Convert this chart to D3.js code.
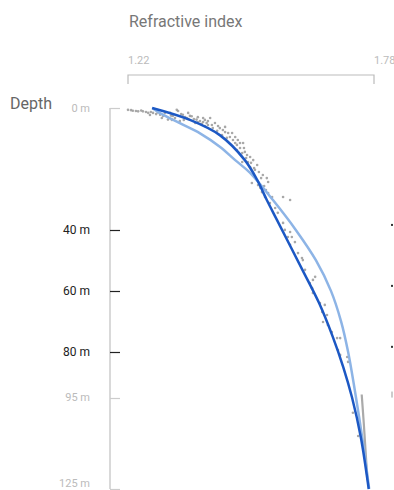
<!DOCTYPE html>
<html>
<head>
<meta charset="utf-8">
<script src="https://cdn.jsdelivr.net/npm/d3@7"></script>
<style>
  html, body { margin: 0; padding: 0; background: #fff; }
  svg { display: block; font-family: Roboto, "Noto Sans", sans-serif; }
</style>
</head>
<body>
<div id="chart"></div>
<script>
// refractive index vs depth
const indexTicks = [1.22, 1.78];
const depthTicks = [0, 40, 60, 80, 95, 125];
const strongTicks = [40, 60, 80];

// measured samples [index, depth m]
const samples = [
  [1.220,0.6],[1.227,0.7],[1.231,0.9],[1.238,1.0],[1.243,1.1],[1.250,0.8],[1.254,1.1],
  [1.261,1.3],[1.266,1.6],[1.272,1.3],[1.277,1.6],[1.284,2.0],[1.288,1.5],[1.293,2.2],
  [1.300,2.6],[1.304,1.6],[1.311,3.8],[1.316,1.6],[1.318,2.5],[1.322,2.6],[1.327,3.3],
  [1.331,0.6],[1.334,1.0],[1.338,4.3],[1.341,2.0],[1.345,2.2],[1.350,3.0],[1.354,3.3],
  [1.357,1.6],[1.361,2.6],[1.365,2.7],[1.370,3.6],[1.376,3.8],[1.379,3.0],[1.384,4.3],
  [1.388,5.2],[1.391,3.3],[1.395,3.9],[1.399,4.9],[1.402,4.3],[1.407,3.3],[1.411,5.6],
  [1.418,4.9],[1.391,4.6],[1.425,5.9],[1.429,6.6],[1.436,7.2],[1.441,6.2],[1.448,8.2],
  [1.457,8.2],[1.445,9.8],[1.459,10.5],[1.468,12.1],[1.475,13.1],[1.482,11.5],[1.486,14.4],
  [1.491,15.4],[1.498,16.1],[1.505,17.1],[1.514,18.7],[1.468,13.8],[1.480,14.8],[1.493,17.7],
  [1.480,17.7],[1.498,19.4],[1.509,20.3],[1.518,21.0],[1.527,22.0],[1.536,23.0],[1.502,24.6],
  [1.516,25.3],[1.525,27.6],[1.539,27.9],[1.548,29.2],[1.532,29.2],[1.573,29.2],[1.589,30.2],
  [1.539,24.3],[1.543,31.2],[1.555,32.8],[1.561,34.4],[1.573,37.7],[1.577,40.0],[1.589,40.7],
  [1.584,42.3],[1.593,42.3],[1.600,44.0],[1.589,44.9],[1.607,47.6],[1.616,49.2],[1.618,49.9],
  [1.623,53.1],[1.646,55.4],[1.641,56.4],[1.634,57.4],[1.639,59.1],[1.641,60.7],[1.657,64.0],
  [1.668,64.6],[1.662,66.9],[1.673,67.9],[1.664,70.2],[1.675,71.2],[1.684,73.5],[1.696,75.5],
  [1.703,75.5],[1.698,79.4],[1.703,81.0],[1.719,81.7],[1.721,83.3],[1.732,100.0],[1.744,107.6],
  [1.270,2.3],[1.297,3.3],[1.320,3.9],[1.347,3.9],[1.373,4.9],[1.395,5.9],[1.413,6.6],
  [1.423,7.5],[1.434,8.9],[1.452,9.5],[1.464,11.5],[1.470,10.5],[1.484,13.1],[1.489,16.4],
  [1.500,18.0],[1.507,19.7],[1.523,23.0],[1.530,25.6],[1.521,26.2],[1.534,26.9],[1.402,5.6],
  [1.379,4.6],[1.357,3.6],[1.441,7.9],[1.464,9.5],[1.475,11.5]
];

// deep core log
const coreLog = [[1.752,94],[1.757,104],[1.761,113],[1.765,122]];

// fitted profile
const fitLine = [
  [1.275,0],[1.361,3.9],[1.429,8.9],[1.486,17.1],[1.514,23.6],[1.536,30.2],[1.559,36.7],
  [1.617,53.1],[1.655,64.0],[1.686,75.0],[1.710,85.0],[1.730,95.0],[1.750,108.0],[1.768,125]
];

// model profile
const modelLine = [
  [1.275,0],[1.293,1.7],[1.338,5.0],[1.384,8.3],[1.429,12.7],[1.464,17.1],[1.498,21.3],
  [1.550,30.2],[1.602,40.0],[1.648,50.0],[1.682,60.0],[1.705,70.0],[1.721,80.0],
  [1.739,95.0],[1.754,109.0],[1.769,125]
];

const width = 394, height = 490;

const svg = d3.select("#chart").append("svg")
  .attr("width", width)
  .attr("height", height);

const x = d3.scaleLinear().domain([1.22, 1.78]).range([128, 374]);
const y = d3.scaleLinear().domain([0, 125]).range([108, 489]);

// titles
svg.append("text")
  .attr("x", 129).attr("y", 27)
  .attr("font-size", 16).attr("fill", "#777")
  .text("Refractive index");

svg.append("text")
  .attr("x", 10).attr("y", 109)
  .attr("font-size", 16).attr("fill", "#666")
  .text("Depth");

// top axis bracket
const xAxisY = 75;
svg.append("path")
  .attr("d", `M${x(1.22)},${xAxisY + 9}V${xAxisY}H${x(1.78)}V${xAxisY + 9}`)
  .attr("fill", "none")
  .attr("stroke", "#bbb")
  .attr("stroke-width", 1.2);

svg.selectAll(".xlabel")
  .data(indexTicks)
  .enter().append("text")
  .attr("class", "xlabel")
  .attr("x", d => x(d))
  .attr("y", 64)
  .attr("font-size", 11)
  .attr("fill", "#bbb")
  .text(d => d.toFixed(2));

// left axis
const axisX = 110;
svg.append("line")
  .attr("x1", axisX).attr("x2", axisX)
  .attr("y1", y(0)).attr("y2", y(125))
  .attr("stroke", "#ccc")
  .attr("stroke-width", 1.5);

svg.selectAll(".ytick")
  .data(depthTicks)
  .enter().append("line")
  .attr("class", "ytick")
  .attr("x1", axisX).attr("x2", axisX + 10)
  .attr("y1", d => Math.round(y(d)) + 0.5)
  .attr("y2", d => Math.round(y(d)) + 0.5)
  .attr("stroke", d => strongTicks.includes(d) ? "#222" : "#ccc")
  .attr("stroke-width", 1.2);

svg.selectAll(".ylabel")
  .data(depthTicks)
  .enter().append("text")
  .attr("class", "ylabel")
  .attr("x", 90)
  .attr("y", d => d === 125 ? y(d) - 6 : y(d))
  .attr("dy", "0.35em")
  .attr("text-anchor", "end")
  .attr("font-size", d => strongTicks.includes(d) ? 12 : 11)
  .attr("fill", d => strongTicks.includes(d) ? "#222" : "#bbb")
  .text(d => d + " m");

// clipped marks at right edge
svg.selectAll(".edge")
  .data(depthTicks.filter(d => d > 0 && d < 125))
  .enter().append("rect")
  .attr("class", "edge")
  .attr("x", 391)
  .attr("y", d => y(d) - 6)
  .attr("width", 2)
  .attr("height", d => strongTicks.includes(d) ? 2 : 6)
  .attr("fill", d => strongTicks.includes(d) ? "#333" : "#ccc");

// samples
svg.append("g")
  .selectAll("circle")
  .data(samples)
  .enter().append("circle")
  .attr("cx", d => x(d[0]))
  .attr("cy", d => y(d[1]))
  .attr("r", 1.3)
  .attr("fill", "#999")
  .attr("opacity", 0.85);

const line = d3.line()
  .x(d => x(d[0]))
  .y(d => y(d[1]))
  .curve(d3.curveCatmullRom.alpha(0.5));

svg.append("path")
  .datum(coreLog)
  .attr("d", line)
  .attr("fill", "none")
  .attr("stroke", "#aaa")
  .attr("stroke-width", 2.2);

svg.append("path")
  .datum(modelLine)
  .attr("d", line)
  .attr("fill", "none")
  .attr("stroke", "#8db4e6")
  .attr("stroke-width", 2.5);

svg.append("path")
  .datum(fitLine)
  .attr("d", line)
  .attr("fill", "none")
  .attr("stroke", "#1c58c4")
  .attr("stroke-width", 2.5);
</script>
</body>
</html>
